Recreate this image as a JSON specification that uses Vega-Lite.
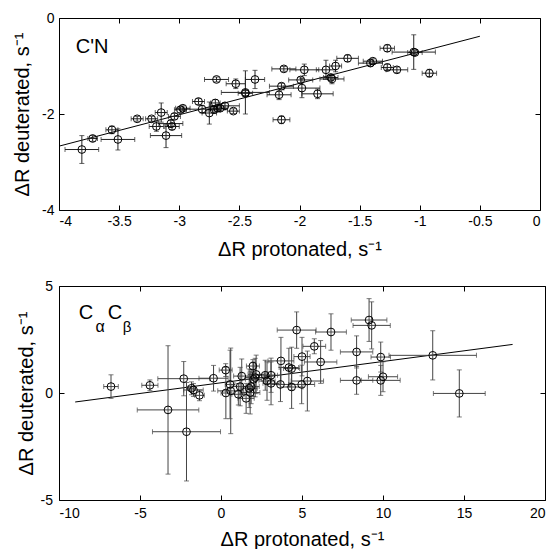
{
  "$schema": "https://vega.github.io/schema/vega-lite/v6.json",
  "padding": {"left": 12, "top": 11, "right": 5, "bottom": 0},
  "background": "white",
  "config": {
    "font": "Liberation Sans",
    "view": {"stroke": null},
    "axis": {
      "grid": false,
      "domainColor": "black",
      "domainWidth": 1,
      "tickColor": "black",
      "tickSize": -5,
      "labelColor": "black",
      "titleColor": "black",
      "labelFont": "Liberation Sans",
      "titleFont": "Liberation Sans",
      "labelFontSize": 14,
      "titleFontSize": 20,
      "titleFontWeight": "normal",
      "labelPadding": 9,
      "format": "~g",
      "labelExpr": "replace(datum.label, '−', '-')"
    }
  },
  "spacing": 20,
  "vconcat": [
    {
      "width": 481,
      "height": 192,
      "data": {"values": [
        {"x": -3.81, "y": -2.74, "ex": 0.14, "ey": 0.29},
        {"x": -3.72, "y": -2.51, "ex": 0.04, "ey": 0.06},
        {"x": -3.56, "y": -2.33, "ex": 0.05, "ey": 0.08},
        {"x": -3.51, "y": -2.53, "ex": 0.14, "ey": 0.22},
        {"x": -3.35, "y": -2.10, "ex": 0.05, "ey": 0.05},
        {"x": -3.23, "y": -2.10, "ex": 0.05, "ey": 0.05},
        {"x": -3.19, "y": -2.26, "ex": 0.06, "ey": 0.10},
        {"x": -3.15, "y": -1.97, "ex": 0.05, "ey": 0.20},
        {"x": -3.11, "y": -2.45, "ex": 0.13, "ey": 0.25},
        {"x": -3.07, "y": -2.20, "ex": 0.10, "ey": 0.08},
        {"x": -3.06, "y": -2.26, "ex": 0.06, "ey": 0.07},
        {"x": -3.04, "y": -2.05, "ex": 0.05, "ey": 0.06},
        {"x": -2.99, "y": -1.91, "ex": 0.05, "ey": 0.06},
        {"x": -2.97, "y": -1.88, "ex": 0.06, "ey": 0.05},
        {"x": -2.84, "y": -1.74, "ex": 0.05, "ey": 0.06},
        {"x": -2.81, "y": -1.90, "ex": 0.15, "ey": 0.08},
        {"x": -2.75, "y": -1.98, "ex": 0.06, "ey": 0.23},
        {"x": -2.70, "y": -1.77, "ex": 0.04, "ey": 0.07},
        {"x": -2.71, "y": -1.91, "ex": 0.05, "ey": 0.07},
        {"x": -2.68, "y": -1.88, "ex": 0.06, "ey": 0.06},
        {"x": -2.66, "y": -1.88, "ex": 0.06, "ey": 0.05},
        {"x": -2.69, "y": -1.28, "ex": 0.10, "ey": 0.05},
        {"x": -2.62, "y": -1.83, "ex": 0.12, "ey": 0.06},
        {"x": -2.55, "y": -1.94, "ex": 0.05, "ey": 0.05},
        {"x": -2.53, "y": -1.37, "ex": 0.08, "ey": 0.10},
        {"x": -2.45, "y": -1.55, "ex": 0.20, "ey": 0.45},
        {"x": -2.45, "y": -1.57, "ex": 0.06, "ey": 0.06},
        {"x": -2.37, "y": -1.28, "ex": 0.08, "ey": 0.19},
        {"x": -2.17, "y": -1.60, "ex": 0.10, "ey": 0.10},
        {"x": -2.15, "y": -1.42, "ex": 0.10, "ey": 0.06},
        {"x": -2.15, "y": -2.12, "ex": 0.07, "ey": 0.08},
        {"x": -2.13, "y": -1.06, "ex": 0.10, "ey": 0.05},
        {"x": -1.99, "y": -1.29, "ex": 0.10, "ey": 0.06},
        {"x": -1.98, "y": -1.46, "ex": 0.15, "ey": 0.20},
        {"x": -1.96, "y": -1.08, "ex": 0.12, "ey": 0.12},
        {"x": -1.85, "y": -1.58, "ex": 0.13, "ey": 0.10},
        {"x": -1.78, "y": -1.08, "ex": 0.08, "ey": 0.20},
        {"x": -1.74, "y": -1.24, "ex": 0.06, "ey": 0.06},
        {"x": -1.73, "y": -1.27, "ex": 0.10, "ey": 0.10},
        {"x": -1.70, "y": -1.00, "ex": 0.05, "ey": 0.12},
        {"x": -1.60, "y": -0.84, "ex": 0.09, "ey": 0.07},
        {"x": -1.41, "y": -0.94, "ex": 0.10, "ey": 0.07},
        {"x": -1.39, "y": -0.90, "ex": 0.08, "ey": 0.05},
        {"x": -1.27, "y": -0.63, "ex": 0.06, "ey": 0.07},
        {"x": -1.27, "y": -1.03, "ex": 0.05, "ey": 0.07},
        {"x": -1.19, "y": -1.08, "ex": 0.09, "ey": 0.06},
        {"x": -1.05, "y": -0.71, "ex": 0.18, "ey": 0.36},
        {"x": -1.04, "y": -0.72, "ex": 0.06, "ey": 0.05},
        {"x": -0.92, "y": -1.15, "ex": 0.06, "ey": 0.08}
      ]},
      "layer": [
        {
          "data": {"values": [{"x": -4, "y": -2.67}, {"x": -0.5, "y": -0.38}]},
          "mark": {"type": "line", "color": "black", "strokeWidth": 1},
          "encoding": {
            "x": {"field": "x", "type": "quantitative", "scale": {"domain": [-4, 0], "nice": false, "zero": false},
                  "axis": {"orient": "top", "values": [-4, -3.5, -3, -2.5, -2, -1.5, -1, -0.5, 0], "labels": false, "title": null}},
            "y": {"field": "y", "type": "quantitative", "scale": {"domain": [-4, 0], "nice": false, "zero": false},
                  "axis": {"orient": "right", "values": [-4, -2, 0], "labels": false, "title": null}}
          }
        },
        {
          "mark": {"type": "errorbar", "ticks": {"size": 5}, "color": "#222", "thickness": 1},
          "encoding": {
            "x": {"field": "x", "type": "quantitative", "axis": null},
            "xError": {"field": "ex"},
            "y": {"field": "y", "type": "quantitative", "axis": null}
          }
        },
        {
          "mark": {"type": "errorbar", "ticks": {"size": 5}, "color": "#222", "thickness": 1},
          "encoding": {
            "y": {"field": "y", "type": "quantitative", "axis": null},
            "yError": {"field": "ey"},
            "x": {"field": "x", "type": "quantitative", "axis": null}
          }
        },
        {
          "mark": {"type": "point", "shape": "circle", "filled": false, "color": "black", "size": 60, "strokeWidth": 1, "opacity": 1},
          "encoding": {
            "x": {"field": "x", "type": "quantitative",
                  "axis": {"orient": "bottom", "values": [-4, -3.5, -3, -2.5, -2, -1.5, -1, -0.5, 0], "title": "ΔR protonated, s⁻¹", "titlePadding": 11}},
            "y": {"field": "y", "type": "quantitative",
                  "axis": {"orient": "left", "values": [-4, -2, 0], "title": "ΔR deuterated, s⁻¹", "titlePadding": 9, "labelPadding": 10}}
          }
        },
        {
          "data": {"values": [{}]},
          "mark": {"type": "text", "text": "C'N", "align": "left", "baseline": "alphabetic", "fontSize": 20, "font": "Liberation Sans", "color": "black"},
          "encoding": {
            "x": {"datum": -3.86, "type": "quantitative", "axis": null},
            "y": {"datum": -0.72, "type": "quantitative", "axis": null}
          }
        }
      ],
      "resolve": {"axis": {"x": "independent", "y": "independent"}}
    },
    {
      "width": 486,
      "height": 214,
      "data": {"values": [
        {"x": -6.79, "y": 0.30, "ex": 0.45, "ey": 0.55},
        {"x": -4.39, "y": 0.36, "ex": 0.5, "ey": 0.25},
        {"x": -3.27, "y": -0.79, "ex": 1.9, "ey": 3.0},
        {"x": -2.30, "y": 0.67, "ex": 1.6, "ey": 0.8},
        {"x": -2.13, "y": -1.81, "ex": 2.1, "ey": 2.3},
        {"x": -1.82, "y": 0.22, "ex": 0.25, "ey": 0.3},
        {"x": -1.70, "y": 0.14, "ex": 0.6, "ey": 0.3},
        {"x": -1.33, "y": -0.11, "ex": 0.3, "ey": 0.25},
        {"x": -0.46, "y": 0.69, "ex": 0.9, "ey": 0.6},
        {"x": 0.29, "y": 1.07, "ex": 0.4, "ey": 0.3},
        {"x": 0.30, "y": 0.0, "ex": 0.3, "ey": 1.2},
        {"x": 0.56, "y": 0.40, "ex": 0.3, "ey": 1.6},
        {"x": 0.60, "y": 0.10, "ex": 0.8, "ey": 2.0},
        {"x": 1.07, "y": -0.06, "ex": 0.4, "ey": 0.5},
        {"x": 1.18, "y": 0.30, "ex": 0.5, "ey": 0.9},
        {"x": 1.28, "y": 0.79, "ex": 0.5, "ey": 0.8},
        {"x": 1.55, "y": -0.25, "ex": 0.5, "ey": 0.7},
        {"x": 1.74, "y": 0.22, "ex": 0.5, "ey": 0.9},
        {"x": 1.86, "y": 0.30, "ex": 0.5, "ey": 0.8},
        {"x": 1.97, "y": 1.26, "ex": 0.4, "ey": 0.3},
        {"x": 2.01, "y": 0.64, "ex": 0.5, "ey": 0.8},
        {"x": 2.11, "y": 0.72, "ex": 0.6, "ey": 0.9},
        {"x": 2.17, "y": 0.87, "ex": 0.5, "ey": 0.9},
        {"x": 1.80, "y": 0.02, "ex": 0.6, "ey": 1.0},
        {"x": 2.73, "y": 0.83, "ex": 0.6, "ey": 0.7},
        {"x": 2.84, "y": 0.56, "ex": 0.5, "ey": 0.9},
        {"x": 3.09, "y": 0.83, "ex": 0.4, "ey": 0.8},
        {"x": 3.09, "y": 0.45, "ex": 0.5, "ey": 1.0},
        {"x": 3.67, "y": 0.40, "ex": 0.6, "ey": 0.8},
        {"x": 3.70, "y": 1.50, "ex": 0.8, "ey": 1.1},
        {"x": 4.19, "y": 1.19, "ex": 0.6, "ey": 0.9},
        {"x": 4.36, "y": 1.14, "ex": 0.5, "ey": 1.0},
        {"x": 4.36, "y": 0.28, "ex": 0.7, "ey": 1.0},
        {"x": 4.67, "y": 2.94, "ex": 1.2, "ey": 0.85},
        {"x": 5.00, "y": 1.70, "ex": 0.5, "ey": 0.9},
        {"x": 4.98, "y": 0.40, "ex": 0.8, "ey": 0.9},
        {"x": 5.33, "y": 0.56, "ex": 1.0, "ey": 1.4},
        {"x": 5.76, "y": 2.18, "ex": 0.7, "ey": 0.35},
        {"x": 6.15, "y": 1.45, "ex": 1.0, "ey": 1.0},
        {"x": 6.79, "y": 2.85, "ex": 0.95, "ey": 0.85},
        {"x": 8.37, "y": 1.92, "ex": 1.0, "ey": 0.75},
        {"x": 8.37, "y": 0.59, "ex": 1.0, "ey": 0.65},
        {"x": 9.14, "y": 3.41, "ex": 1.1, "ey": 1.0},
        {"x": 9.30, "y": 3.16, "ex": 1.15, "ey": 1.1},
        {"x": 9.86, "y": 1.68, "ex": 0.6, "ey": 0.7},
        {"x": 10.0, "y": 0.76, "ex": 0.9, "ey": 0.7},
        {"x": 9.86, "y": 0.59, "ex": 1.2, "ey": 0.7},
        {"x": 13.07, "y": 1.76, "ex": 2.7, "ey": 1.15},
        {"x": 14.71, "y": -0.02, "ex": 1.6, "ey": 1.1}
      ]},
      "layer": [
        {
          "data": {"values": [{"x": -9, "y": -0.42}, {"x": 18, "y": 2.27}]},
          "mark": {"type": "line", "color": "black", "strokeWidth": 1},
          "encoding": {
            "x": {"field": "x", "type": "quantitative", "scale": {"domain": [-10, 20], "nice": false, "zero": false},
                  "axis": {"orient": "top", "values": [-10, -5, 0, 5, 10, 15, 20], "labels": false, "title": null}},
            "y": {"field": "y", "type": "quantitative", "scale": {"domain": [-5, 5], "nice": false, "zero": false},
                  "axis": {"orient": "right", "values": [-5, 0, 5], "labels": false, "title": null}}
          }
        },
        {
          "mark": {"type": "errorbar", "ticks": {"size": 5}, "color": "#444", "thickness": 1},
          "encoding": {
            "x": {"field": "x", "type": "quantitative", "axis": null},
            "xError": {"field": "ex"},
            "y": {"field": "y", "type": "quantitative", "axis": null}
          }
        },
        {
          "mark": {"type": "errorbar", "ticks": {"size": 5}, "color": "#444", "thickness": 1},
          "encoding": {
            "y": {"field": "y", "type": "quantitative", "axis": null},
            "yError": {"field": "ey"},
            "x": {"field": "x", "type": "quantitative", "axis": null}
          }
        },
        {
          "mark": {"type": "point", "shape": "circle", "filled": false, "color": "black", "size": 60, "strokeWidth": 1, "opacity": 1},
          "encoding": {
            "x": {"field": "x", "type": "quantitative",
                  "axis": {"orient": "bottom", "values": [-10, -5, 0, 5, 10, 15, 20], "title": "ΔR protonated, s⁻¹", "titlePadding": 9, "labelPadding": 11}},
            "y": {"field": "y", "type": "quantitative",
                  "axis": {"orient": "left", "values": [-5, 0, 5], "title": "ΔR deuterated, s⁻¹", "titlePadding": 4, "labelPadding": 11.5}}
          }
        },
        {
          "data": {"values": [{}]},
          "mark": {"type": "text", "text": "C", "align": "left", "baseline": "alphabetic", "fontSize": 20, "font": "Liberation Sans", "color": "black"},
          "encoding": {
            "x": {"datum": -8.78, "type": "quantitative", "axis": null},
            "y": {"datum": 3.44, "type": "quantitative", "axis": null}
          }
        },
        {
          "data": {"values": [{}]},
          "mark": {"type": "text", "text": "α", "align": "left", "baseline": "alphabetic", "fontSize": 16, "font": "Liberation Sans", "color": "black"},
          "encoding": {
            "x": {"datum": -7.75, "type": "quantitative", "axis": null},
            "y": {"datum": 2.85, "type": "quantitative", "axis": null}
          }
        },
        {
          "data": {"values": [{}]},
          "mark": {"type": "text", "text": "C", "align": "left", "baseline": "alphabetic", "fontSize": 20, "font": "Liberation Sans", "color": "black"},
          "encoding": {
            "x": {"datum": -6.99, "type": "quantitative", "axis": null},
            "y": {"datum": 3.44, "type": "quantitative", "axis": null}
          }
        },
        {
          "data": {"values": [{}]},
          "mark": {"type": "text", "text": "β", "align": "left", "baseline": "alphabetic", "fontSize": 15, "font": "Liberation Sans", "color": "black"},
          "encoding": {
            "x": {"datum": -6.06, "type": "quantitative", "axis": null},
            "y": {"datum": 2.85, "type": "quantitative", "axis": null}
          }
        }
      ],
      "resolve": {"axis": {"x": "independent", "y": "independent"}}
    }
  ]
}
